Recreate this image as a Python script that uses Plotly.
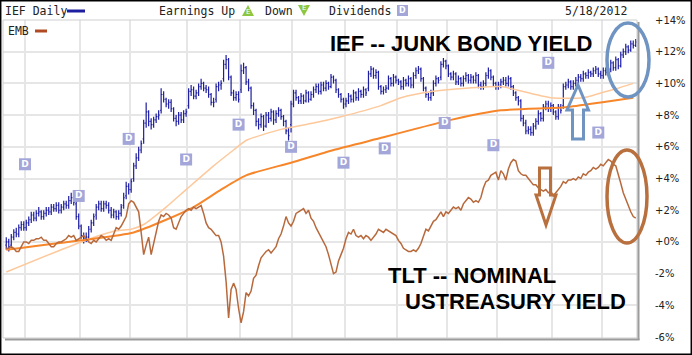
import plotly.graph_objects as go

# ---------------- data (percent change, daily bars 2011-05-19 .. 2012-05-18) ----------------
ief_open = [
    -0.2, 0.0, -0.2, 0.3, 0.6, 0.5, 0.9, 1.1, 0.9, 1.2,
    1.4, 1.7, 1.5, 1.8, 1.9, 1.6, 1.8, 2.0, 1.9, 2.2,
    2.1, 2.3, 2.0, 2.2, 2.4, 2.3, 2.6, 2.8, 2.4, 1.6,
    1.0, 0.4, 0.2, 0.3, 0.8, 1.2, 1.7, 2.2, 2.4, 2.1,
    2.4, 2.3, 2.0, 1.7, 1.9, 1.6, 1.8, 2.3, 2.9, 3.5,
    3.3, 4.0, 4.8, 5.3, 5.8, 6.5, 7.5, 8.2, 7.6, 7.4,
    7.7, 7.9, 8.3, 9.3, 9.0, 8.7, 8.8, 8.4, 7.8, 7.6,
    8.0, 7.7, 8.1, 8.6, 9.5, 9.6, 9.2, 9.4, 9.8, 10.0,
    9.7, 9.6, 9.3, 8.8, 9.0, 9.8, 9.9, 10.3, 11.2, 11.5,
    10.4, 9.4, 9.1, 9.3, 9.6, 10.8, 11.0, 10.1, 9.7, 8.6,
    8.3, 7.6, 7.4, 7.9, 7.3, 8.0, 7.8, 8.2, 7.7, 8.1,
    8.3, 7.9, 7.6, 7.0, 7.4, 8.7, 9.4, 9.1, 8.9, 9.2,
    8.9, 9.4, 9.0, 9.3, 9.6, 9.8, 9.5, 9.9, 9.7, 10.0,
    9.8, 10.4, 10.2, 9.6, 9.3, 9.0, 8.7, 8.9, 9.2, 9.0,
    9.4, 9.1, 9.5, 9.3, 9.6, 9.7, 10.6, 10.9, 10.5, 10.7,
    9.8, 9.5, 9.6, 9.7, 10.3, 10.0, 10.4, 10.2, 10.1, 9.8,
    10.2, 10.0, 10.3, 9.9, 10.5, 10.8, 10.9, 10.3, 9.7, 9.3,
    9.1, 9.4, 10.0, 10.3, 10.4, 11.2, 11.4, 11.1, 10.6, 10.4,
    10.6, 10.1, 10.3, 10.0, 10.3, 10.5, 10.2, 10.4, 10.2, 10.5,
    9.9, 9.8, 10.0, 10.5, 10.8, 10.4, 10.0, 9.8, 9.9, 10.1,
    10.2, 10.0, 10.3, 9.8, 9.4, 9.1, 8.9, 7.8, 7.5, 7.0,
    7.1, 6.9, 7.3, 7.6, 8.1, 7.8, 8.5, 8.7, 8.4, 8.6,
    8.2, 7.9, 8.5, 8.6, 9.8, 9.9, 10.1, 9.8, 10.0, 10.2,
    10.4, 10.3, 10.6, 10.5, 10.7, 10.6, 10.8, 10.9, 10.6, 10.5,
    10.8, 10.7, 10.9, 11.3, 11.0, 11.5, 11.1, 11.8, 12.0, 12.3,
    12.1, 12.5, 12.4,
]
ief_high = [
    0.3, 0.2, 0.5, 0.8, 0.9, 1.1, 1.3, 1.3, 1.4, 1.6,
    1.9, 1.9, 2.0, 2.2, 2.0, 2.0, 2.2, 2.2, 2.4, 2.4,
    2.5, 2.5, 2.4, 2.6, 2.6, 2.9, 3.1, 2.9, 2.6, 1.8,
    1.1, 0.6, 0.6, 1.0, 1.4, 1.8, 2.4, 2.6, 2.6, 2.6,
    2.6, 2.5, 2.2, 2.1, 2.0, 2.0, 2.4, 3.1, 3.8, 3.7,
    4.0, 5.0, 5.6, 6.0, 6.4, 7.7, 8.8, 8.3, 7.8, 7.9,
    8.1, 8.3, 9.7, 9.5, 9.1, 9.0, 9.0, 8.5, 8.0, 8.2,
    8.2, 8.3, 8.4, 9.7, 9.9, 9.8, 9.6, 10.0, 10.3, 10.1,
    9.9, 9.8, 9.4, 9.1, 10.0, 10.1, 10.2, 11.5, 11.8, 11.6,
    10.5, 9.6, 9.5, 9.5, 11.2, 11.3, 11.1, 10.3, 9.8, 8.8,
    8.4, 7.8, 8.1, 8.0, 8.2, 8.2, 8.4, 8.3, 8.3, 8.5,
    8.4, 8.0, 7.7, 7.2, 8.9, 9.6, 9.6, 9.2, 9.4, 9.3,
    9.6, 9.5, 9.5, 9.8, 10.0, 10.0, 10.1, 10.1, 10.2, 10.1,
    10.6, 10.5, 10.3, 9.7, 9.4, 9.1, 9.1, 9.4, 9.3, 9.6,
    9.5, 9.7, 9.6, 9.8, 9.7, 10.8, 11.1, 11.0, 10.9, 10.8,
    9.9, 9.8, 9.9, 10.5, 10.4, 10.6, 10.5, 10.3, 10.2, 10.4,
    10.3, 10.5, 10.4, 10.7, 11.0, 11.1, 11.0, 10.4, 9.8, 9.4,
    9.6, 10.2, 10.5, 10.4, 11.4, 11.6, 11.5, 11.2, 10.7, 10.8,
    10.7, 10.5, 10.4, 10.5, 10.7, 10.6, 10.6, 10.5, 10.7, 10.6,
    10.1, 10.2, 10.7, 11.0, 10.9, 10.5, 10.1, 10.1, 10.3, 10.4,
    10.4, 10.5, 10.4, 9.9, 9.5, 9.2, 9.0, 8.0, 7.7, 7.3,
    7.3, 7.5, 7.8, 8.3, 8.2, 8.7, 8.9, 8.9, 8.8, 8.7,
    8.3, 8.7, 8.7, 10.0, 10.1, 10.3, 10.2, 10.2, 10.4, 10.6,
    10.6, 10.8, 10.7, 10.9, 10.8, 11.0, 11.1, 11.0, 10.8, 11.0,
    11.0, 11.1, 11.5, 11.4, 11.7, 11.6, 12.0, 12.2, 12.5, 12.4,
    12.7, 12.7, 12.8,
]
ief_low = [
    -0.5, -0.6, -0.4, 0.1, 0.3, 0.3, 0.7, 0.7, 0.7, 1.0,
    1.2, 1.3, 1.3, 1.6, 1.4, 1.4, 1.6, 1.7, 1.7, 1.9,
    1.9, 1.8, 1.8, 2.0, 2.1, 2.1, 2.4, 2.3, 1.4, 0.8,
    0.2, -0.1, 0.0, 0.1, 0.6, 1.0, 1.4, 2.0, 1.9, 1.9,
    2.1, 1.8, 1.5, 1.5, 1.4, 1.4, 1.6, 2.1, 2.7, 3.0,
    3.1, 3.8, 4.6, 5.1, 5.6, 6.2, 7.2, 7.3, 7.1, 7.2,
    7.5, 7.7, 8.1, 8.8, 8.5, 8.4, 8.2, 7.6, 7.3, 7.4,
    7.5, 7.5, 7.9, 8.4, 9.2, 9.0, 9.0, 9.2, 9.6, 9.5,
    9.4, 9.1, 8.6, 8.5, 8.8, 9.5, 9.6, 10.1, 10.9, 10.2,
    9.2, 8.9, 8.9, 8.8, 9.4, 10.6, 9.9, 9.5, 8.4, 8.0,
    7.3, 7.1, 7.2, 7.0, 7.2, 7.5, 7.6, 7.4, 7.5, 7.9,
    7.7, 7.3, 6.8, 6.4, 6.9, 8.5, 8.9, 8.7, 8.7, 8.7,
    8.8, 8.8, 8.9, 9.1, 9.4, 9.3, 9.3, 9.5, 9.5, 9.6,
    9.7, 10.0, 9.4, 9.1, 8.8, 8.4, 8.5, 8.7, 8.8, 8.8,
    8.9, 8.9, 9.1, 9.1, 9.2, 9.5, 10.4, 10.3, 10.3, 9.6,
    9.3, 9.3, 9.4, 9.6, 9.8, 9.8, 10.0, 9.9, 9.6, 9.6,
    9.8, 9.8, 9.7, 9.7, 10.3, 10.6, 10.1, 9.5, 9.1, 8.9,
    8.9, 9.2, 9.8, 10.0, 10.2, 11.0, 10.9, 10.4, 10.2, 10.2,
    9.9, 9.9, 9.8, 9.8, 10.1, 10.0, 10.0, 10.0, 10.0, 9.7,
    9.6, 9.6, 9.8, 10.3, 10.2, 9.8, 9.6, 9.6, 9.7, 9.9,
    9.8, 9.8, 9.6, 9.2, 8.9, 8.6, 7.6, 7.3, 6.8, 6.8,
    6.7, 6.7, 7.1, 7.4, 7.6, 7.6, 8.3, 8.2, 8.2, 8.0,
    7.7, 7.7, 8.1, 8.4, 9.6, 9.7, 9.6, 9.6, 9.8, 10.0,
    10.1, 10.1, 10.3, 10.3, 10.4, 10.4, 10.6, 10.4, 10.3, 10.3,
    10.5, 10.5, 10.7, 10.8, 10.8, 10.9, 11.0, 11.6, 11.8, 11.9,
    12.0, 12.2, 12.3,
]
ief_close = [
    0.0, -0.3, 0.3, 0.6, 0.5, 0.9, 1.1, 0.9, 1.2, 1.4,
    1.7, 1.5, 1.8, 1.9, 1.6, 1.8, 2.0, 1.9, 2.2, 2.1,
    2.3, 2.0, 2.2, 2.4, 2.3, 2.6, 2.8, 2.5, 1.6, 1.0,
    0.4, 0.2, 0.3, 0.8, 1.2, 1.6, 2.2, 2.4, 2.1, 2.4,
    2.3, 2.0, 1.7, 1.9, 1.6, 1.8, 2.2, 2.8, 3.5, 3.3,
    3.8, 4.8, 5.3, 5.8, 6.2, 7.5, 8.2, 7.6, 7.4, 7.7,
    7.9, 8.0, 9.3, 9.0, 8.7, 8.8, 8.4, 7.8, 7.6, 8.0,
    7.7, 8.1, 8.2, 9.5, 9.6, 9.2, 9.4, 9.8, 10.0, 9.7,
    9.6, 9.3, 8.8, 8.8, 9.8, 9.9, 10.0, 11.2, 11.5, 10.4,
    9.4, 9.1, 9.3, 9.0, 10.8, 11.0, 10.1, 9.7, 8.6, 8.3,
    7.6, 7.4, 7.9, 7.3, 8.0, 7.8, 8.2, 7.7, 8.1, 8.3,
    7.9, 7.6, 7.0, 6.7, 8.7, 9.4, 9.1, 8.9, 9.2, 8.9,
    9.4, 9.0, 9.3, 9.6, 9.8, 9.5, 9.9, 9.7, 10.0, 9.8,
    10.4, 10.2, 9.6, 9.3, 9.0, 8.7, 8.9, 9.2, 9.0, 9.4,
    9.1, 9.5, 9.3, 9.6, 9.4, 10.6, 10.9, 10.5, 10.7, 9.8,
    9.5, 9.6, 9.7, 10.3, 10.0, 10.4, 10.2, 10.1, 9.8, 10.2,
    10.0, 10.3, 9.9, 10.5, 10.8, 10.9, 10.3, 9.7, 9.3, 9.1,
    9.4, 10.0, 10.3, 10.2, 11.2, 11.4, 11.1, 10.6, 10.4, 10.6,
    10.1, 10.3, 10.0, 10.3, 10.5, 10.2, 10.4, 10.2, 10.5, 9.9,
    9.8, 10.0, 10.5, 10.8, 10.4, 10.0, 9.8, 9.9, 10.1, 10.2,
    10.0, 10.3, 9.8, 9.4, 9.1, 8.9, 7.8, 7.5, 7.0, 7.1,
    6.9, 7.3, 7.6, 8.1, 7.8, 8.5, 8.7, 8.4, 8.6, 8.2,
    7.9, 8.5, 8.3, 9.8, 9.9, 10.1, 9.8, 10.0, 10.2, 10.4,
    10.3, 10.6, 10.5, 10.7, 10.6, 10.8, 10.9, 10.6, 10.5, 10.8,
    10.7, 10.9, 11.3, 11.0, 11.5, 11.1, 11.8, 12.0, 12.3, 12.1,
    12.5, 12.4, 12.6,
]
emb_values = [
    -0.4, -0.4, -0.3, -0.4, -0.6, -0.6, -0.3, 0.0, 0.0, -0.1,
    0.1, 0.1, 0.2, 0.2, 0.3, 0.1, 0.1, -0.1, -0.3, -0.3,
    -0.1, 0.0, 0.0, 0.1, 0.2, 0.4, 0.3, 0.4, 0.1, 0.2,
    0.3, 0.4, 0.2, 0.0, -0.1, 0.1, 0.0, 0.2, 0.4, 0.3,
    0.1, 0.2, 0.1, 0.5, 0.9, 0.8, 1.0, 1.3, 1.6, 2.4,
    2.6, 2.5, 2.2, 1.9, 0.6, -0.8, -0.2, 0.3, -0.8, -0.1,
    0.5, 1.3, 1.7, 1.6, 1.8, 1.7, 1.5, 0.9, 0.8, 1.2,
    1.6, 1.8, 2.0, 2.1, 2.0, 2.2, 2.1, 2.2, 2.3, 1.8,
    1.2, 0.9, 0.8, 0.6, 0.4, 0.4, 0.0, -0.9, -2.5, -4.8,
    -3.0, -2.6, -3.0, -4.2, -5.1, -4.4, -3.2, -3.4, -3.1, -2.3,
    -2.1, -1.5, -1.0, -0.8, -0.6, -0.5, -0.7, -0.5, -0.3, 0.2,
    0.5, 1.0, 1.6, 1.2, 1.0, 1.3, 1.8, 1.9, 2.0, 2.1,
    1.8, 2.0, 1.5, 1.3, 0.9, 0.6, 0.4, 0.1, -0.3, -0.8,
    -1.5, -2.0, -1.9, -1.2, -0.8, -0.4, 0.2, 0.6, 0.5, 0.8,
    0.4, 0.3, 0.4, 0.2, 0.4, 0.3, 0.1, 0.3, 0.5, 0.8,
    0.7, 0.6, 0.8, 0.7, 0.6, 0.5, 0.4, 0.1, -0.1, -0.4,
    -0.5, -0.6, -0.6, -0.5, -0.6, -0.4, -0.1, 0.3, 0.8, 0.7,
    1.0, 1.3, 1.4, 1.7, 1.9, 1.6, 1.9, 1.8, 2.0, 2.2,
    2.1, 2.2, 2.0, 2.4, 2.6, 2.8, 2.7, 2.5, 2.6, 2.5,
    2.8, 3.4, 3.8, 3.9, 4.2, 4.3, 4.4, 3.9, 4.5, 4.3,
    3.9, 4.6, 5.0, 5.2, 5.1, 4.5, 4.3, 4.2, 4.2, 4.0,
    3.8, 3.6, 3.6, 3.4, 3.3, 3.2, 3.3, 3.1, 3.2, 2.9,
    3.1, 3.3, 3.5, 3.8, 3.7, 3.9, 3.9, 4.0, 3.9, 4.1,
    4.0, 4.3, 4.2, 4.4, 4.5, 4.7, 4.6, 4.7, 4.9, 4.8,
    5.0, 5.2, 5.1, 4.9, 4.8, 4.3, 3.7, 3.1, 2.7, 2.2,
    1.9, 1.6, 1.5,
]
# moving averages read at sample bars
ma50_idx = [0, 30, 44, 50, 55, 64, 72, 83, 91, 96, 110, 123, 134, 150, 158, 171, 184, 198, 204, 218, 231, 238, 245, 251]
ma50_values = [-1.9, 0.0, 0.7, 0.8, 1.1, 2.2, 3.3, 4.8, 5.8, 6.4, 7.1, 7.5, 7.9, 8.6, 9.1, 9.5, 9.7, 9.8, 9.6, 9.1, 9.1, 9.4, 9.7, 10.0]
ma200_idx = [0, 30, 51, 64, 75, 86, 96, 114, 131, 151, 163, 178, 198, 224, 238, 251]
ma200_values = [-0.5, 0.1, 0.6, 1.4, 2.2, 3.3, 4.2, 5.0, 5.8, 6.6, 7.1, 7.7, 8.3, 8.5, 8.8, 9.1]
# dividends
div_idx = [7.5, 29, 49, 72, 93, 114, 135, 151.5, 175.5, 195, 217, 237]
div_level = [4.9, 2.9, 6.5, 5.2, 7.4, 6.0, 5.0, 5.9, 7.5, 6.1, 11.3, 6.9]
# month boundaries (first bar of each month) and y ticks
month_labels = ["Jun", "Jul", "Aug", "Sep", "Oct", "Nov", "Dec", "Jan", "Feb", "Mar", "Apr", "May"]
month_start_idx = [8, 30, 50, 73, 94, 115, 136, 157, 177, 197, 219, 239]
y_ticks = [14, 12, 10, 8, 6, 4, 2, 0, -2, -4, -6]
y_tick_labels = ["+14%", "+12%", "+10%", "+8%", "+6%", "+4%", "+2%", "+0%", "-2%", "-4%", "-6%"]

# ---------------- styling / geometry ----------------
W, H = 692, 355
PL, PR, PT, PB = 3, 637, 20, 338  # plot area in pixels


def px(x):
    return (x - PL) / (PR - PL)


def py(y):
    return (PB - y) / (PB - PT)


def path_from(points):
    s = "M " + " L ".join(f"{px(a):.5f},{py(b):.5f}" for a, b in points) + " Z"
    return s


NAVY = "#1e1ea0"
BROWN = "#b8693c"
LIGHT_OR = "#fdc99c"
ORANGE = "#f7862a"
DBOX = "#a3a6d9"
GRID = "#e6e6e6"

bars_x = list(range(len(ief_close)))

fig = go.Figure()
fig.add_trace(go.Scatter(x=ma50_idx, y=ma50_values, mode="lines",
                         line=dict(color=LIGHT_OR, width=1.5, shape="spline", smoothing=0.6),
                         hoverinfo="skip"))
fig.add_trace(go.Scatter(x=ma200_idx, y=ma200_values, mode="lines",
                         line=dict(color=ORANGE, width=2, shape="spline", smoothing=0.6),
                         hoverinfo="skip"))
fig.add_trace(go.Scatter(x=bars_x, y=emb_values, mode="lines",
                         line=dict(color=BROWN, width=1.5), name="EMB"))
fig.add_trace(go.Ohlc(x=bars_x, open=ief_open, high=ief_high, low=ief_low, close=ief_close,
                      increasing=dict(line=dict(color=NAVY, width=1.2)),
                      decreasing=dict(line=dict(color=NAVY, width=1.2)),
                      tickwidth=0.4, name="IEF"))
fig.add_trace(go.Scatter(x=div_idx, y=div_level, mode="markers+text",
                         marker=dict(symbol="square", size=12, color=DBOX),
                         text=["D"] * len(div_idx), textposition="middle center",
                         textfont=dict(color="white", size=9, family="DejaVu Sans", weight="bold"),
                         hoverinfo="skip"))

shapes = []
# plot border and shadow
shapes.append(dict(type="rect", xref="paper", yref="paper", x0=0, x1=1, y0=0, y1=1,
                   line=dict(color="#cfcfcf", width=1), layer="above"))
shapes.append(dict(type="line", xref="paper", yref="paper", x0=px(638.5), x1=px(638.5),
                   y0=py(340), y1=py(22), line=dict(color="#9c9c9c", width=2)))
shapes.append(dict(type="line", xref="paper", yref="paper", x0=px(5), x1=px(639.5),
                   y0=py(339.5), y1=py(339.5), line=dict(color="#9c9c9c", width=2)))
# outer frame
shapes.append(dict(type="rect", xref="paper", yref="paper", x0=px(0.7), x1=px(691.3),
                   y0=py(354.3), y1=py(0.7), line=dict(color="black", width=1.5)))
# legend marks
shapes.append(dict(type="line", xref="paper", yref="paper", x0=px(67), x1=px(85),
                   y0=py(11), y1=py(11), line=dict(color=NAVY, width=3)))
shapes.append(dict(type="line", xref="paper", yref="paper", x0=px(35), x1=px(47),
                   y0=py(31), y1=py(31), line=dict(color="#b04a22", width=3)))
shapes.append(dict(type="path", xref="paper", yref="paper",
                   path=path_from([(242, 16), (254, 16), (248, 5)]),
                   fillcolor="#8dc63f", line=dict(width=0)))
shapes.append(dict(type="path", xref="paper", yref="paper",
                   path=path_from([(298, 5), (310, 5), (304, 16)]),
                   fillcolor="#8dc63f", line=dict(width=0)))
shapes.append(dict(type="rect", xref="paper", yref="paper", x0=px(397), x1=px(408),
                   y0=py(16), y1=py(5), fillcolor=DBOX, line=dict(width=0)))
# arrows
shapes.append(dict(type="path", xref="paper", yref="paper",
                   path=path_from([(578, 85), (588.5, 110), (583.5, 110), (583.5, 139),
                                   (572.5, 139), (572.5, 110), (567, 110)]),
                   line=dict(color="#6f94c2", width=3)))
shapes.append(dict(type="path", xref="paper", yref="paper",
                   path=path_from([(539.5, 168), (550.5, 168), (550.5, 195), (556, 195),
                                   (546, 225), (536, 195), (539.5, 195)]),
                   line=dict(color="#b9703f", width=3)))
# ellipses
shapes.append(dict(type="circle", xref="paper", yref="paper", x0=px(607), x1=px(649),
                   y0=py(97), y1=py(23), line=dict(color="#6f94c2", width=3.5)))
shapes.append(dict(type="circle", xref="paper", yref="paper", x0=px(607), x1=px(647),
                   y0=py(243), y1=py(150), line=dict(color="#b9703f", width=3.5)))

LEG_FONT = dict(family="DejaVu Sans Mono", size=11.5, color="#222222")
annotations = []


def add_text(text, x, y, font, xanchor="left"):
    annotations.append(dict(text=text, xref="paper", yref="paper", x=px(x), y=py(y),
                            xanchor=xanchor, yanchor="middle", showarrow=False, font=font))


add_text("IEF Daily", 3, 11, LEG_FONT)
add_text("Earnings Up", 157, 11, LEG_FONT)
add_text("Down", 263, 11, LEG_FONT)
add_text("Dividends", 327, 11, LEG_FONT)
add_text("5/18/2012", 563, 11, LEG_FONT)
add_text("EMB", 6, 31, LEG_FONT)
add_text("E", 248, 12.5, dict(family="DejaVu Sans", size=7, color="white"), xanchor="center")
add_text("E", 304, 8.5, dict(family="DejaVu Sans", size=7, color="white"), xanchor="center")
add_text("D", 402.5, 10.5, dict(family="DejaVu Sans", size=8, color="white", weight="bold"), xanchor="center")

BIG = dict(family="Liberation Sans", size=22, color="black", weight="bold")
add_text("IEF -- JUNK BOND YIELD", 461.5, 43, BIG, xanchor="center")
add_text("TLT -- NOMINAL", 471.5, 275, BIG, xanchor="center")
add_text("USTREASURY YIELD", 515, 301, BIG, xanchor="center")

fig.update_layout(
    width=W, height=H,
    margin=dict(l=PL, r=W - PR, t=PT, b=H - PB, autoexpand=False),
    paper_bgcolor="white", plot_bgcolor="white",
    showlegend=False,
    shapes=shapes, annotations=annotations,
    xaxis=dict(range=[-1.31, 252.5], tickvals=[m - 0.5 for m in month_start_idx],
               ticktext=month_labels, showticklabels=False, ticks="",
               showgrid=True, gridcolor=GRID, gridwidth=1.5, zeroline=False,
               rangeslider=dict(visible=False), showline=False),
    yaxis=dict(side="right", range=[-6.06, 14.0], tickvals=y_ticks, ticktext=y_tick_labels,
               tickfont=dict(family="DejaVu Sans", size=10, color="#222222"),
               ticks="outside", ticklen=15, tickcolor="rgba(0,0,0,0)", automargin=False,
               showgrid=True, gridcolor=GRID, gridwidth=1.5, zeroline=False, showline=False),
)

# the page's default 8px body margin would shift the figure; remove it
fig.write_html("out.html", config={"displayModeBar": False},
               post_script="document.body.style.margin='0';document.body.style.overflow='hidden';")
